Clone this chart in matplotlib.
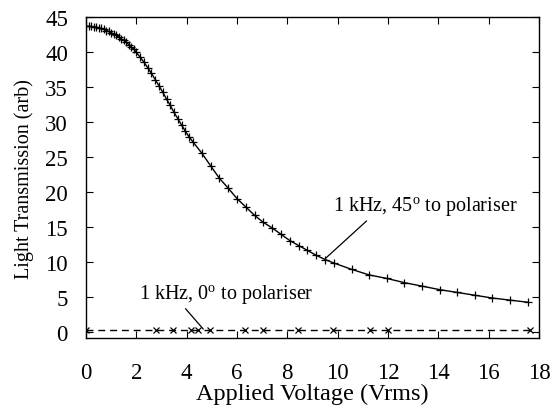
import matplotlib
matplotlib.use("Agg")
import matplotlib.pyplot as plt

# 45 degree orientation (marker points)
v45 = [0.0, 0.1, 0.2, 0.3, 0.4, 0.5, 0.6, 0.7, 0.8, 0.9, 1.0,
       1.1, 1.2, 1.3, 1.4, 1.5, 1.6, 1.7, 1.8, 1.9, 2.0,
       2.15, 2.3, 2.45, 2.6, 2.75, 2.9, 3.05, 3.2, 3.35, 3.5,
       3.65, 3.8, 3.95, 4.1, 4.25,
       4.6, 4.95, 5.3, 5.65, 6.0, 6.35, 6.7, 7.05, 7.4, 7.75,
       8.1, 8.45, 8.8, 9.15, 9.5, 9.85,
       10.55, 11.25, 11.95, 12.65, 13.35, 14.05, 14.75, 15.45,
       16.15, 16.85, 17.55]
t45 = [43.7, 43.7, 43.7, 43.6, 43.6, 43.5, 43.4, 43.3, 43.1, 43.0, 42.8,
       42.6, 42.4, 42.2, 41.9, 41.7, 41.4, 41.1, 40.8, 40.4, 40.0,
       39.3, 38.6, 37.8, 37.0, 36.1, 35.2, 34.3, 33.3, 32.4, 31.4,
       30.5, 29.6, 28.7, 27.9, 27.2,
       25.6, 23.8, 22.0, 20.6, 19.1, 17.9, 16.7, 15.7, 14.9, 14.0,
       13.1, 12.4, 11.7, 11.0, 10.4, 9.9,
       9.0, 8.2, 7.7, 7.1, 6.6, 6.1, 5.7, 5.3,
       4.9, 4.6, 4.3]

# 0 degree orientation
v0 = [0.0, 2.8, 3.46, 4.19, 4.45, 4.92, 6.3, 7.04, 8.43, 9.82, 11.28, 12.0, 17.64]
t0 = [0.4, 0.4, 0.4, 0.4, 0.4, 0.4, 0.4, 0.4, 0.4, 0.4, 0.4, 0.4, 0.4]

xticks = [0, 2, 4, 6, 8, 10, 12, 14, 16, 18]
yticks = [0, 5, 10, 15, 20, 25, 30, 35, 40, 45]

plt.rcParams['font.family'] = ['Liberation Serif', 'DejaVu Serif']
plt.rcParams['mathtext.fontset'] = 'custom'
plt.rcParams['mathtext.rm'] = 'Liberation Serif'

fig = plt.figure(figsize=(5.57, 4.06), dpi=100)
ax = fig.add_axes([0.1544, 0.1643, 0.8133, 0.7907])

ax.plot(v45, t45, color='black', linewidth=1.0, marker='+', markersize=5.5,
        markeredgewidth=0.9)
ax.plot(v0, t0, color='black', linewidth=1.0, linestyle=(0, (5, 3.5)),
        marker='x', markersize=4, markeredgewidth=0.9)

ax.set_xlim(0, 18)
ax.set_ylim(-0.85, 45)
ax.set_xticks(xticks)
ax.set_yticks(yticks)
ax.tick_params(direction='in', top=True, right=True, length=5, width=0.8,
               labelsize=16.5)
ax.tick_params(axis='x', pad=17)
ax.tick_params(axis='y', pad=13)
for s in ax.spines.values():
    s.set_linewidth(1.0)

ax.set_xlabel('Applied Voltage (Vrms)', fontsize=17.5, labelpad=0)
ax.set_ylabel('Light Transmission (arb)', fontsize=14.5, labelpad=8)

ax.annotate(r'1 kHz, 45$^{\rm o}$ to polariser', xy=(9.53, 10.61),
            xytext=(13.47, 18.0), ha='center', va='center', fontsize=14.5,
            arrowprops=dict(arrowstyle='-', color='black', lw=0.9,
                            shrinkA=0, shrinkB=0, relpos=(0.2, 0.0)))
ax.annotate(r'1 kHz, 0$^{\rm o}$ to polariser', xy=(4.66, 0.47),
            xytext=(5.59, 5.47), ha='center', va='center', fontsize=14.5,
            arrowprops=dict(arrowstyle='-', color='black', lw=0.9,
                            shrinkA=0, shrinkB=0, relpos=(0.25, 0.0)))

fig.savefig('out.png', dpi=100)
